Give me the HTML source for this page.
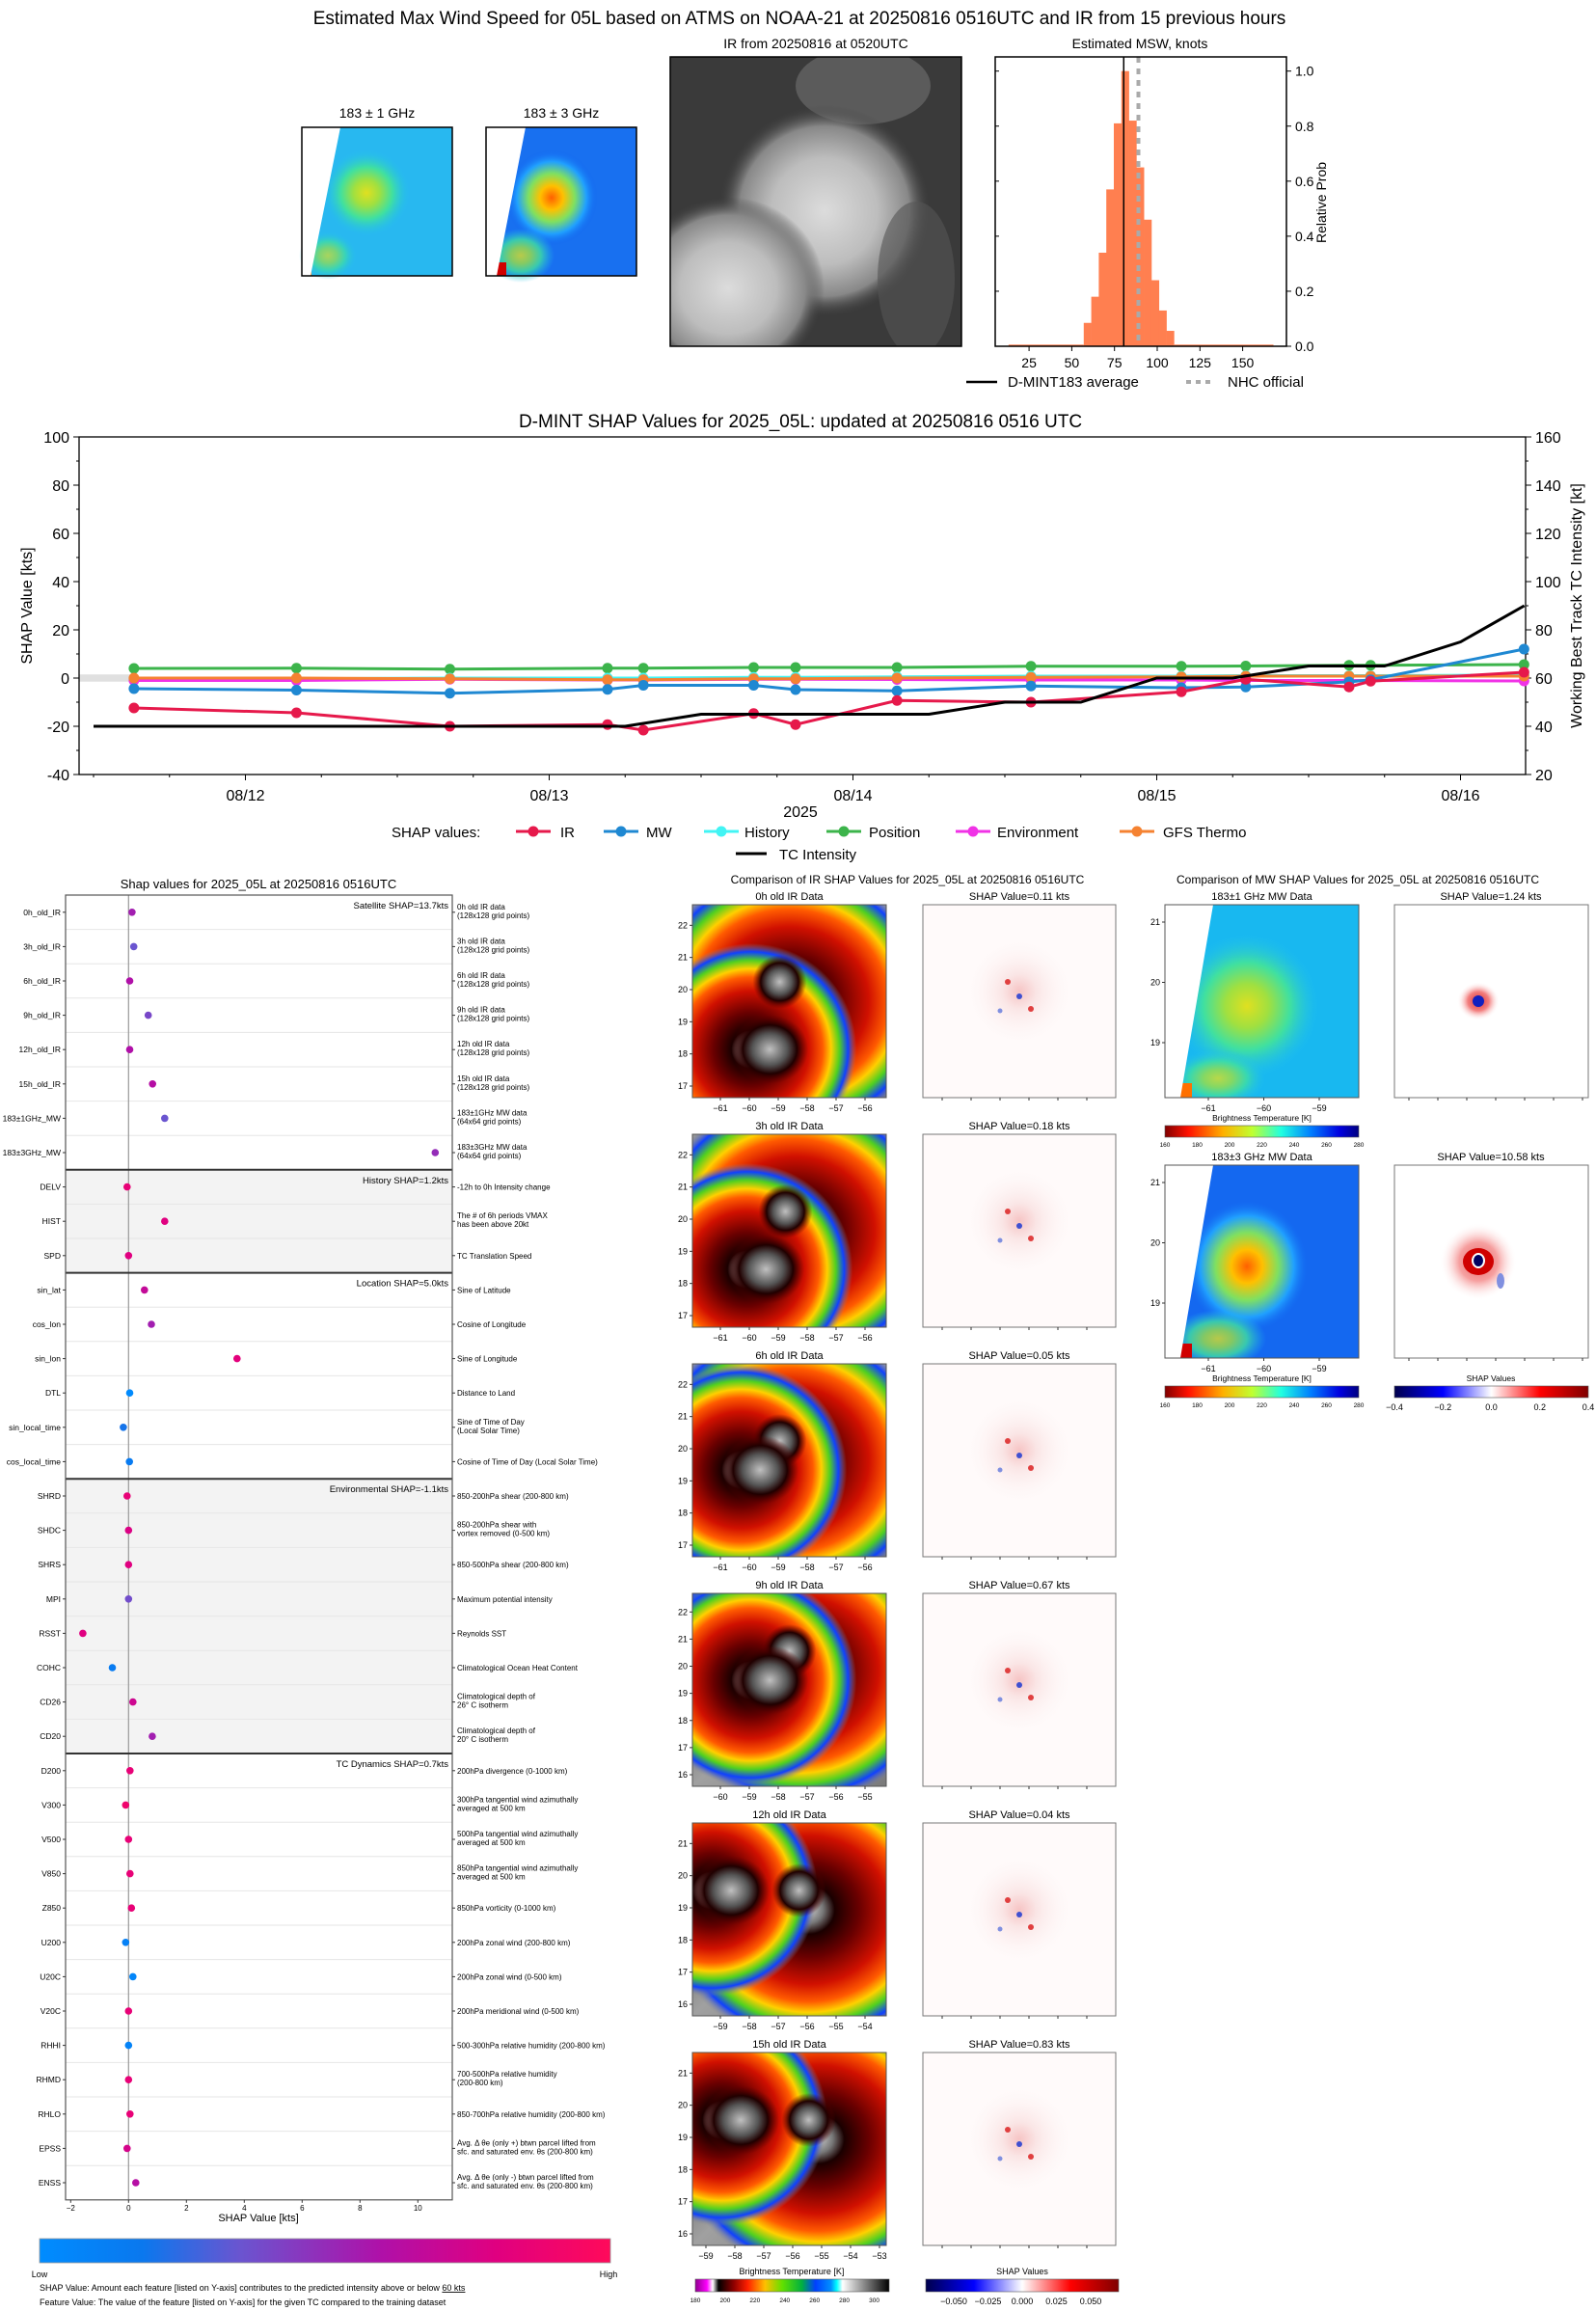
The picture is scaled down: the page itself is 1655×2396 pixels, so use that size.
<!DOCTYPE html>
<html><head><meta charset="utf-8"><title>D-MINT 05L</title>
<style>
html,body{margin:0;padding:0;background:#fff;}
svg{display:block;font-family:"Liberation Sans","DejaVu Sans",sans-serif;}
</style></head>
<body>
<svg id="root" width="1655" height="2396" viewBox="0 0 1655 2396" xmlns="http://www.w3.org/2000/svg">
<defs>
 <radialGradient id="irRing" cx="0.5" cy="0.5" r="0.5">
  <stop offset="0" stop-color="#d0d0d0"/><stop offset="0.1" stop-color="#777"/><stop offset="0.18" stop-color="#1a0000"/>
  <stop offset="0.35" stop-color="#6a0000"/><stop offset="0.55" stop-color="#d01000"/><stop offset="0.68" stop-color="#ff5a00"/>
  <stop offset="0.76" stop-color="#ffd000"/><stop offset="0.84" stop-color="#50d020"/><stop offset="0.92" stop-color="#1040ff"/>
  <stop offset="1" stop-color="#8a8a8a" stop-opacity="0"/></radialGradient>
 <radialGradient id="irCore" cx="0.5" cy="0.5" r="0.5">
  <stop offset="0" stop-color="#c0c0c0"/><stop offset="0.45" stop-color="#555"/><stop offset="0.7" stop-color="#200000"/>
  <stop offset="1" stop-color="#600000" stop-opacity="0"/></radialGradient>
 <linearGradient id="irBase" x1="0" y1="0" x2="1" y2="1">
  <stop offset="0" stop-color="#9a9a9a"/><stop offset="0.3" stop-color="#707070"/><stop offset="0.5" stop-color="#a0a0a0"/><stop offset="1" stop-color="#7a7a7a"/></linearGradient>
 <radialGradient id="shapIR" cx="0.5" cy="0.5" r="0.5">
  <stop offset="0" stop-color="#f0a0a0"/><stop offset="0.3" stop-color="#f7d8d8"/><stop offset="1" stop-color="#fff" stop-opacity="0"/></radialGradient>
 <radialGradient id="mw1" cx="0.5" cy="0.5" r="0.5">
  <stop offset="0" stop-color="#e0e020"/><stop offset="0.3" stop-color="#a0e040"/><stop offset="0.6" stop-color="#40e0a0"/><stop offset="1" stop-color="#20c0f0" stop-opacity="0"/></radialGradient>
 <radialGradient id="mw3" cx="0.5" cy="0.5" r="0.5">
  <stop offset="0" stop-color="#ff6000"/><stop offset="0.25" stop-color="#ffc000"/><stop offset="0.5" stop-color="#80e060"/><stop offset="0.75" stop-color="#20a0ff"/><stop offset="1" stop-color="#1060f0" stop-opacity="0"/></radialGradient>
 <radialGradient id="grayStorm" cx="0.5" cy="0.5" r="0.5">
  <stop offset="0" stop-color="#dcdcdc"/><stop offset="0.5" stop-color="#bdbdbd"/><stop offset="0.8" stop-color="#888"/><stop offset="1" stop-color="#3c3c3c" stop-opacity="0"/></radialGradient>
 <radialGradient id="mwShapR" cx="0.5" cy="0.5" r="0.5">
  <stop offset="0" stop-color="#d00000"/><stop offset="0.5" stop-color="#f06060"/><stop offset="1" stop-color="#fff" stop-opacity="0"/></radialGradient>
 <linearGradient id="cbShapDot" x1="0" x2="1"><stop offset="0" stop-color="#008cff"/><stop offset="0.18" stop-color="#0a78ee"/><stop offset="0.35" stop-color="#6a55d0"/><stop offset="0.6" stop-color="#b010a8"/><stop offset="0.8" stop-color="#e00080"/><stop offset="1" stop-color="#ff0a5a"/></linearGradient>
 <linearGradient id="cbIR" x1="0" x2="1"><stop offset="0" stop-color="#900090"/><stop offset="0.06" stop-color="#ff00ff"/><stop offset="0.09" stop-color="#ffffff"/><stop offset="0.12" stop-color="#000"/><stop offset="0.2" stop-color="#900000"/><stop offset="0.27" stop-color="#ff2000"/><stop offset="0.36" stop-color="#ffc000"/><stop offset="0.45" stop-color="#60e000"/><stop offset="0.55" stop-color="#00b040"/><stop offset="0.62" stop-color="#0040ff"/><stop offset="0.7" stop-color="#0090ff"/><stop offset="0.73" stop-color="#00ffff"/><stop offset="0.76" stop-color="#ffffff"/><stop offset="1" stop-color="#000"/></linearGradient>
 <linearGradient id="cbShap" x1="0" x2="1"><stop offset="0" stop-color="#00004c"/><stop offset="0.25" stop-color="#0000ff"/><stop offset="0.5" stop-color="#ffffff"/><stop offset="0.75" stop-color="#ff0000"/><stop offset="1" stop-color="#800000"/></linearGradient>
 <linearGradient id="cbMW" x1="0" x2="1"><stop offset="0" stop-color="#800000"/><stop offset="0.12" stop-color="#ff1000"/><stop offset="0.3" stop-color="#ffb000"/><stop offset="0.45" stop-color="#c0ff30"/><stop offset="0.6" stop-color="#20ffe0"/><stop offset="0.75" stop-color="#0080ff"/><stop offset="0.9" stop-color="#0000e0"/><stop offset="1" stop-color="#000080"/></linearGradient>
</defs>

<!-- ===== TOP SECTION ===== -->
<text x="829" y="25" font-size="19" text-anchor="middle">Estimated Max Wind Speed for 05L based on ATMS on NOAA-21 at 20250816 0516UTC and IR from 15 previous hours</text>

<g>
 <text x="391" y="122" font-size="14" text-anchor="middle">183 ± 1 GHz</text>
 <rect x="313" y="132" width="156" height="154" fill="#28b8f0"/>
 <ellipse cx="380" cy="200" rx="45" ry="45" fill="url(#mw1)"/>
 <ellipse cx="340" cy="265" rx="30" ry="25" fill="url(#mw1)" opacity="0.7"/>
 <rect x="313" y="276" width="10" height="10" fill="#ff8000"/>
 <polygon points="313,132 353,132 322,286 313,286" fill="#fff"/>
 <rect x="313" y="132" width="156" height="154" fill="none" stroke="#000" stroke-width="1.5"/>
</g>
<g>
 <text x="582" y="122" font-size="14" text-anchor="middle">183 ± 3 GHz</text>
 <rect x="504" y="132" width="156" height="154" fill="#1870f0"/>
 <ellipse cx="572" cy="205" rx="48" ry="50" fill="url(#mw3)"/>
 <ellipse cx="540" cy="265" rx="35" ry="28" fill="url(#mw1)" opacity="0.8"/>
 <rect x="515" y="272" width="10" height="14" fill="#d00000"/>
 <polygon points="504,132 545,132 515,286 504,286" fill="#fff"/>
 <rect x="504" y="132" width="156" height="154" fill="none" stroke="#000" stroke-width="1.5"/>
</g>
<g>
 <text x="846" y="50" font-size="14" text-anchor="middle">IR from 20250816 at 0520UTC</text>
 <svg x="695" y="59" width="302" height="300" viewBox="0 0 302 300">
  <rect width="302" height="300" fill="#3a3a3a"/>
  <ellipse cx="200" cy="30" rx="70" ry="40" fill="#6a6a6a" opacity="0.7"/>
  <ellipse cx="160" cy="160" rx="110" ry="110" fill="url(#grayStorm)"/>
  <ellipse cx="60" cy="240" rx="100" ry="95" fill="url(#grayStorm)"/>
  <ellipse cx="255" cy="230" rx="40" ry="80" fill="#555" opacity="0.6"/>
 </svg>
 <rect x="695" y="59" width="302" height="300" fill="none" stroke="#000" stroke-width="1.5"/>
</g>
<g id="hist">
 <text x="1182" y="50" font-size="14" text-anchor="middle">Estimated MSW, knots</text>
 <text transform="translate(1375,210) rotate(-90)" font-size="14" text-anchor="middle">Relative Prob</text>
 <line x1="1002" y1="396" x2="1034" y2="396" stroke="#000" stroke-width="2.5"/>
 <text x="1045" y="401" font-size="15">D-MINT183 average</text>
 <line x1="1230" y1="396" x2="1258" y2="396" stroke="#aaa" stroke-width="4" stroke-dasharray="5,5"/>
 <text x="1273" y="401" font-size="15">NHC official</text>
</g>

<!-- ===== MAIN TIME SERIES ===== -->
<g id="main">
 <text x="830" y="443" font-size="19" text-anchor="middle">D-MINT SHAP Values for 2025_05L: updated at 20250816 0516 UTC</text>
 <text transform="translate(33,628) rotate(-90)" font-size="16" text-anchor="middle">SHAP Value [kts]</text>
 <text transform="translate(1640,628) rotate(-90)" font-size="16" text-anchor="middle">Working Best Track TC Intensity [kt]</text>
 <text x="830" y="847" font-size="16" text-anchor="middle">2025</text>
 <g>
  <text x="406" y="868" font-size="15">SHAP values:</text>
 </g>
</g>

<!-- ===== LEFT DOT CHART ===== -->
<g id="dots">
 <text x="268" y="921" font-size="13" text-anchor="middle">Shap values for 2025_05L at 20250816 0516UTC</text>
 <text x="268" y="2303" font-size="11" text-anchor="middle">SHAP Value [kts]</text>
 <rect x="41" y="2321" width="592" height="25" fill="url(#cbShapDot)" stroke="#999" stroke-width="0.8"/>
 <text x="41" y="2361" font-size="9" text-anchor="middle">Low</text>
 <text x="631" y="2361" font-size="9" text-anchor="middle">High</text>
 <text x="41" y="2375" font-size="9">SHAP Value: Amount each feature [listed on Y-axis] contributes to the predicted intensity above or below <tspan text-decoration="underline">60 kts</tspan></text>
 <text x="41" y="2390" font-size="9">Feature Value: The value of the feature [listed on Y-axis] for the given TC compared to the training dataset</text>
</g>

<!-- ===== IR / MW PANELS ===== -->
<g id="panels">
 <text x="941" y="916" font-size="12" text-anchor="middle">Comparison of IR SHAP Values for 2025_05L at 20250816 0516UTC</text>
 <text x="1408" y="916" font-size="12" text-anchor="middle">Comparison of MW SHAP Values for 2025_05L at 20250816 0516UTC</text>
</g>
</svg>

<script>
// ---------- DATA ----------
const tsDays = [-0.367,0.168,0.673,1.192,1.310,1.673,1.811,2.145,2.586,3.081,3.293,3.633,3.704,4.209];
const irShap = [-12.4,-14.4,-20,-19.3,-21.6,-14.7,-19.3,-9.3,-10,-5.7,-0.5,-3.7,-1.3,2.4];
const mwShap = [-4.4,-5,-6.3,-4.7,-3,-3,-4.8,-5.3,-3.3,-4,-3.7,-1.6,-0.7,12];
const histShap = [-0.5,-0.3,0,0,0,0.3,0.3,0.5,0.8,0.8,1.0,1.0,1.0,1.2];
const posShap = [4,4.1,3.7,4.1,4.1,4.4,4.4,4.4,4.9,4.9,5,5.3,5.3,5.6];
const envShap = [-1,-1,-0.5,-0.8,-0.8,-0.5,-0.5,-0.6,-0.8,-0.8,-1,-1,-1,-1.2];
const gfsShap = [0,0,-0.3,-0.7,-0.7,-0.3,-0.3,0,0.3,0.5,0.8,0.8,0.8,0.8];
const tcDays = [-0.5,-0.25,0,0.25,0.5,0.75,1.0,1.25,1.5,1.75,2.0,2.25,2.5,2.75,3.0,3.25,3.5,3.75,4.0,4.21];
const tcKts = [40,40,40,40,40,40,40,40,45,45,45,45,50,50,60,60,65,65,75,90];
const dateLabels = ["08/12","08/13","08/14","08/15","08/16"];
const leftTicks = [-40,-20,0,20,40,60,80,100];
const rightTicks = [20,40,60,80,100,120,140,160];

const histBinStart = 57, histBinWidth = 4.4;
const histProbs = [0.085,0.18,0.34,0.57,0.81,1.0,0.82,0.65,0.46,0.24,0.13,0.056];
const histTailLo = [13,57], histTailHi = [110,168], histTailProb = 0.006;
const dmintMean = 80.4, nhcOfficial = 89;
const histXTicks = [25,50,75,100,125,150];
const histYTicks = [0.0,0.2,0.4,0.6,0.8,1.0];

const featNames = ["0h_old_IR","3h_old_IR","6h_old_IR","9h_old_IR","12h_old_IR","15h_old_IR","183±1GHz_MW","183±3GHz_MW","DELV","HIST","SPD","sin_lat","cos_lon","sin_lon","DTL","sin_local_time","cos_local_time","SHRD","SHDC","SHRS","MPI","RSST","COHC","CD26","CD20","D200","V300","V500","V850","Z850","U200","U20C","V20C","RHHI","RHMD","RHLO","EPSS","ENSS"];
const featShap = [0.12,0.18,0.04,0.68,0.04,0.83,1.25,10.6,-0.05,1.25,0,0.55,0.79,3.75,0.04,-0.18,0.03,-0.05,0,0,0,-1.58,-0.56,0.15,0.82,0.05,-0.1,0,0.05,0.1,-0.1,0.15,0,0,0,0.05,-0.05,0.25];
const featValue = [0.55,0.35,0.6,0.4,0.6,0.62,0.35,0.5,0.85,0.8,0.8,0.68,0.55,0.82,0.02,0.2,0.15,0.85,0.78,0.8,0.38,0.8,0.15,0.72,0.55,0.85,0.9,0.85,0.85,0.85,0.1,0.05,0.85,0.08,0.85,0.85,0.75,0.62];
const featDesc = [["0h old IR data","(128x128 grid points)"],["3h old IR data","(128x128 grid points)"],["6h old IR data","(128x128 grid points)"],["9h old IR data","(128x128 grid points)"],["12h old IR data","(128x128 grid points)"],["15h old IR data","(128x128 grid points)"],["183±1GHz MW data","(64x64 grid points)"],["183±3GHz MW data","(64x64 grid points)"],["-12h to 0h Intensity change"],["The # of 6h periods VMAX","has been above 20kt"],["TC Translation Speed"],["Sine of Latitude"],["Cosine of Longitude"],["Sine of Longitude"],["Distance to Land"],["Sine of Time of Day","(Local Solar Time)"],["Cosine of Time of Day (Local Solar Time)"],["850-200hPa shear (200-800 km)"],["850-200hPa shear with","vortex removed (0-500 km)"],["850-500hPa shear (200-800 km)"],["Maximum potential intensity"],["Reynolds SST"],["Climatological Ocean Heat Content"],["Climatological depth of","26° C isotherm"],["Climatological depth of","20° C isotherm"],["200hPa divergence (0-1000 km)"],["300hPa tangential wind azimuthally","averaged at 500 km"],["500hPa tangential wind azimuthally","averaged at 500 km"],["850hPa tangential wind azimuthally","averaged at 500 km"],["850hPa vorticity (0-1000 km)"],["200hPa zonal wind (200-800 km)"],["200hPa zonal wind (0-500 km)"],["200hPa meridional wind (0-500 km)"],["500-300hPa relative humidity (200-800 km)"],["700-500hPa relative humidity","(200-800 km)"],["850-700hPa relative humidity (200-800 km)"],["Avg. Δ θe (only +) btwn parcel lifted from","sfc. and saturated env. θs (200-800 km)"],["Avg. Δ θe (only -) btwn parcel lifted from","sfc. and saturated env. θs (200-800 km)"]];
const groupStarts = [0,8,11,17,25];
const groupTitles = ["Satellite SHAP=13.7kts","History SHAP=1.2kts","Location SHAP=5.0kts","Environmental SHAP=-1.1kts","TC Dynamics SHAP=0.7kts"];
const dotXTicks = [-2,0,2,4,6,8,10];

const irTitles = ["0h old IR Data","3h old IR Data","6h old IR Data","9h old IR Data","12h old IR Data","15h old IR Data"];
const irShapVals = ["0.11","0.18","0.05","0.67","0.04","0.83"];
const irLatTicks = [[17,18,19,20,21,22],[17,18,19,20,21,22],[17,18,19,20,21,22],[16,17,18,19,20,21,22],[16,17,18,19,20,21],[16,17,18,19,20,21]];
const irLonTicks = [[-61,-60,-59,-58,-57,-56],[-61,-60,-59,-58,-57,-56],[-61,-60,-59,-58,-57,-56],[-60,-59,-58,-57,-56,-55],[-59,-58,-57,-56,-55,-54],[-59,-58,-57,-56,-55,-54,-53]];
const irTbTicks = [180,200,220,240,260,280,300];
const irShapTicks = ["−0.050","−0.025","0.000","0.025","0.050"];
const mwTitles = ["183±1 GHz MW Data","183±3 GHz MW Data"];
const mwShapVals = ["1.24","10.58"];
const mwLatTicks = [21,20,19];
const mwLonTicks = [-61,-60,-59];
const mwTbTicks = [160,180,200,220,240,260,280];
const mwShapTicks = ["−0.4","−0.2","0.0","0.2","0.4"];

// ---------- HELPERS ----------
const NS = "http://www.w3.org/2000/svg";
function mk(tag, attrs, parent) {
  const e = document.createElementNS(NS, tag);
  for (const k in attrs) e.setAttribute(k, attrs[k]);
  parent.appendChild(e);
  return e;
}
function txt(parent, x, y, s, size, anchor) {
  const t = mk("text", {x: x, y: y, "font-size": size, "text-anchor": anchor || "start"}, parent);
  t.textContent = s;
  return t;
}

// ---------- HISTOGRAM ----------
(function(){
  const g = document.getElementById("hist");
  const L = 1032, R = 1334, T = 59, B = 359;
  const hx = k => 1022.8 + k * 1.772;
  const hy = p => B - p * 285.3;
  const tl = mk("rect", {x: hx(histTailLo[0]), y: hy(histTailProb), width: hx(histTailLo[1]) - hx(histTailLo[0]), height: B - hy(histTailProb), fill: "#ff7f50"}, g);
  
  
  const th = mk("rect", {x: hx(histTailHi[0]), y: hy(histTailProb), width: hx(histTailHi[1]) - hx(histTailHi[0]), height: B - hy(histTailProb), fill: "#ff7f50"}, g);
  
  
  histProbs.forEach((p, i) => {
    const k0 = histBinStart + i * histBinWidth;
    const b = mk("rect", {x: hx(k0), y: hy(p), width: hx(k0 + histBinWidth) - hx(k0) + 0.3, height: B - hy(p), fill: "#ff7f50"}, g);
    
    
  });
  const ml = mk("line", {x1: hx(dmintMean), x2: hx(dmintMean), y1: T, y2: B, stroke: "#000", "stroke-width": 1.5}, g);
  
  
  const nl = mk("line", {x1: hx(nhcOfficial), x2: hx(nhcOfficial), y1: T, y2: B, stroke: "#aaa", "stroke-width": 4, "stroke-dasharray": "6,6"}, g);
  
  
  const fr = mk("rect", {x: L, y: T, width: R - L, height: B - T, fill: "none", stroke: "#000", "stroke-width": 1.5}, g);
  
  
  histXTicks.forEach(v => {
    mk("line", {x1: hx(v), x2: hx(v), y1: B, y2: B + 5, stroke: "#000"}, g);
    const t = txt(g, hx(v), B + 22, String(v), 14, "middle");
    
    
  });
  histYTicks.forEach(v => {
    mk("line", {x1: R, x2: R + 5, y1: hy(v), y2: hy(v), stroke: "#000"}, g);
    mk("line", {x1: L, x2: L + 4, y1: hy(v), y2: hy(v), stroke: "#000"}, g);
    const t = txt(g, R + 9, hy(v) + 5, v.toFixed(1), 14, "start");
    
    
  });
})();

// ---------- MAIN TIME SERIES ----------
(function(){
  const g = document.getElementById("main");
  const L = 82, R = 1582, T = 453, B = 803;
  const x = d => 254.5 + d * 315;
  const y = v => B - (v + 40) * 2.5;
  const yR = k => B - (k - 20) * 2.5;
  const band = mk("rect", {x: L, y: y(1.5), width: x(tsDays[0]) - L, height: y(-1.5) - y(1.5), fill: "#e0e0e0"}, g);
  
  
  const fr = mk("rect", {x: L, y: T, width: R - L, height: B - T, fill: "none", stroke: "#000", "stroke-width": 1.3}, g);
  
  
  leftTicks.forEach(v => {
    mk("line", {x1: L - 6, x2: L, y1: y(v), y2: y(v), stroke: "#000"}, g);
    const t = txt(g, L - 10, y(v) + 6, String(v), 16, "end");
    
    
    if (v < 100) mk("line", {x1: L - 3, x2: L, y1: y(v + 10), y2: y(v + 10), stroke: "#000"}, g);
  });
  rightTicks.forEach(v => {
    mk("line", {x1: R, x2: R + 6, y1: yR(v), y2: yR(v), stroke: "#000"}, g);
    const t = txt(g, R + 10, yR(v) + 6, String(v), 16, "start");
    
    
    if (v < 160) mk("line", {x1: R, x2: R + 3, y1: yR(v + 10), y2: yR(v + 10), stroke: "#000"}, g);
  });
  for (let q = -2; q <= 16; q++) {
    const xx = x(q / 4);
    if (xx < L || xx > R) continue;
    mk("line", {x1: xx, x2: xx, y1: B, y2: B + (q % 4 === 0 ? 6 : 3), stroke: "#000"}, g);
  }
  dateLabels.forEach((s, i) => {
    const t = txt(g, x(i), B + 27, s, 16, "middle");
    
    
  });
  const series = [
    ["IR", irShap, "#e6194b"], ["MW", mwShap, "#1f88d2"], ["History", histShap, "#42f4f4"],
    ["Position", posShap, "#3cb44b"], ["Environment", envShap, "#f032e6"], ["GFS Thermo", gfsShap, "#f58231"]
  ];
  const order = [3, 2, 4, 5, 1, 0];
  order.forEach(si => {
    const s = series[si];
    const pts = tsDays.map((d, i) => x(d) + "," + y(s[1][i])).join(" ");
    const pl = mk("polyline", {points: pts, fill: "none", stroke: s[2], "stroke-width": 3}, g);
    
    
    tsDays.forEach((d, i) => {
      const c = mk("circle", {cx: x(d), cy: y(s[1][i]), r: 5.5, fill: s[2]}, g);
      
      
    });
  });
  const tcPts = tcDays.map((d, i) => x(d) + "," + yR(tcKts[i])).join(" ");
  const tc = mk("polyline", {points: tcPts, fill: "none", stroke: "#000", "stroke-width": 3}, g);
  
  
  const legX = [[535, 581], [626, 670], [730, 772], [857, 901], [991, 1034], [1161, 1206]];
  series.forEach((s, i) => {
    const ln = mk("line", {x1: legX[i][0], x2: legX[i][0] + 36, y1: 862, y2: 862, stroke: s[2], "stroke-width": 3}, g);
    
    
    mk("circle", {cx: legX[i][0] + 18, cy: 862, r: 5.5, fill: s[2]}, g);
    const t = txt(g, legX[i][1], 868, s[0], 15, "start");
    
    
  });
  const tl = mk("line", {x1: 763, x2: 795, y1: 885, y2: 885, stroke: "#000", "stroke-width": 3}, g);
  
  
  const tt = txt(g, 808, 891, "TC Intensity", 15, "start");
  
  
})();

// ---------- DOT CHART ----------
function featColor(v) {
  const stops = [[0, [0, 140, 255]], [0.18, [10, 120, 238]], [0.35, [106, 85, 208]], [0.6, [176, 16, 168]], [0.8, [224, 0, 128]], [1, [255, 10, 90]]];
  for (let i = 1; i < stops.length; i++) {
    if (v <= stops[i][0]) {
      const a = stops[i - 1], b = stops[i], t = (v - a[0]) / (b[0] - a[0]);
      const c = a[1].map((c0, j) => Math.round(c0 + (b[1][j] - c0) * t));
      return "rgb(" + c.join(",") + ")";
    }
  }
  return "rgb(255,10,90)";
}
(function(){
  const g = document.getElementById("dots");
  const L = 68, R = 469, T = 928, rowH = 35.6;
  const B = T + featNames.length * rowH;
  const x = v => 133.3 + v * 30;
  const ry = i => T + (i + 0.5) * rowH;
  groupStarts.forEach((s, gi) => {
    const e = gi + 1 < groupStarts.length ? groupStarts[gi + 1] : featNames.length;
    const bg = mk("rect", {x: L, y: T + s * rowH, width: R - L, height: (e - s) * rowH, fill: gi % 2 ? "#f3f3f3" : "#fff"}, g);
    
    
  });
  for (let i = 1; i < featNames.length; i++) {
    mk("line", {x1: L, x2: R, y1: T + i * rowH, y2: T + i * rowH, stroke: "#e6e6e6", "stroke-width": 1}, g);
  }
  mk("line", {x1: x(0), x2: x(0), y1: T, y2: B, stroke: "#999", "stroke-width": 1.2}, g);
  groupStarts.forEach((s, gi) => {
    if (s > 0) mk("line", {x1: L, x2: R, y1: T + s * rowH, y2: T + s * rowH, stroke: "#333", "stroke-width": 2}, g);
    const t = txt(g, R - 4, T + s * rowH + 14, groupTitles[gi], 9.5, "end");
    
    
  });
  const fr = mk("rect", {x: L, y: T, width: R - L, height: B - T, fill: "none", stroke: "#555", "stroke-width": 1.2}, g);
  
  
  featNames.forEach((n, i) => {
    mk("line", {x1: L - 3, x2: L, y1: ry(i), y2: ry(i), stroke: "#333"}, g);
    const t = txt(g, L - 5, ry(i) + 3, n, 8.5, "end");
    
    
    const d = featDesc[i];
    mk("line", {x1: R, x2: R + 3, y1: ry(i), y2: ry(i), stroke: "#333"}, g);
    d.forEach((line, k) => {
      const yy = d.length === 1 ? ry(i) + 3 : ry(i) - 3 + k * 9;
      const dt = txt(g, R + 5, yy, line, 8, "start");
      
      
    });
    const c = mk("circle", {cx: x(featShap[i]), cy: ry(i), r: 3.8, fill: featColor(featValue[i])}, g);
    
    
  });
  dotXTicks.forEach(v => {
    mk("line", {x1: x(v), x2: x(v), y1: B, y2: B + 3, stroke: "#333"}, g);
    const t = txt(g, x(v), B + 11, String(v).replace('-', '−'), 8, "middle");
    
    
  });
})();

// ---------- IMAGE PANELS ----------
(function(){
  const g = document.getElementById("panels");
  const stormPos = [[0.45,0.5,0.3,0.75],[0.48,0.5,0.28,0.7],[0.45,0.5,0.25,0.55],[0.5,0.4,0.3,0.45],[0.55,0.45,0.1,0.35],[0.6,0.45,0.15,0.35]];
  const rowTop = i => 938 + i * 238;
  irTitles.forEach((tl, i) => {
    const X = 718, Y = rowTop(i), W = 201, H = 200;
    const t = txt(g, X + W / 2, Y - 5, tl, 11, "middle");
    
    
    const sv = mk("svg", {x: X, y: Y, width: W, height: H, viewBox: "0 0 201 200"}, g);
    
    
    const p = stormPos[i];
    mk("rect", {width: 201, height: 200, fill: "url(#irBase)"}, sv);
    mk("ellipse", {cx: p[0] * 201 + 10, cy: p[1] * 200, rx: 150, ry: 140, fill: "url(#irRing)"}, sv);
    mk("ellipse", {cx: p[2] * 201, cy: p[3] * 200, rx: 110, ry: 110, fill: "url(#irRing)"}, sv);
    mk("ellipse", {cx: p[0] * 201, cy: p[1] * 200 - 20, rx: 28, ry: 28, fill: "url(#irCore)"}, sv);
    mk("ellipse", {cx: p[2] * 201 + 20, cy: p[3] * 200, rx: 40, ry: 36, fill: "url(#irCore)"}, sv);
    mk("rect", {x: X, y: Y, width: W, height: H, fill: "none", stroke: "#555"}, g);
    irLatTicks[i].forEach((v, k) => {
      const yy = Y + H - 12 - k * (H - 20) / (irLatTicks[i].length - 0.6);
      mk("line", {x1: X - 3, x2: X, y1: yy, y2: yy, stroke: "#333"}, g);
      const lt = txt(g, X - 5, yy + 3, String(v), 9, "end");
      
      
    });
    irLonTicks[i].forEach((v, k) => {
      const xx = X + 29 + k * 30 - (irLonTicks[i].length > 6 ? 15 : 0);
      mk("line", {x1: xx, x2: xx, y1: Y + H, y2: Y + H + 3, stroke: "#333"}, g);
      const lt = txt(g, xx, Y + H + 14, String(v).replace('-', '−'), 9, "middle");
      
      
    });
    const SX = 957;
    const st = txt(g, SX + 100, Y - 5, "SHAP Value=" + irShapVals[i] + " kts", 11, "middle");
    
    
    const ss = mk("svg", {x: SX, y: Y, width: 200, height: H, viewBox: "0 0 200 200"}, g);
    
    
    mk("rect", {width: 200, height: 200, fill: "#fffafa"}, ss);
    mk("ellipse", {cx: 100, cy: 90, rx: 60, ry: 60, fill: "url(#shapIR)", opacity: 0.6}, ss);
    mk("circle", {cx: 88, cy: 80, r: 3, fill: "#e04040"}, ss);
    mk("circle", {cx: 100, cy: 95, r: 3, fill: "#4050d0"}, ss);
    mk("circle", {cx: 112, cy: 108, r: 3, fill: "#e04040"}, ss);
    mk("circle", {cx: 80, cy: 110, r: 2.5, fill: "#8090e0"}, ss);
    mk("rect", {x: SX, y: Y, width: 200, height: H, fill: "none", stroke: "#777"}, g);
    for (let k = 0; k < 6; k++) mk("line", {x1: SX + 20 + k * 30, x2: SX + 20 + k * 30, y1: Y + H, y2: Y + H + 3, stroke: "#333"}, g);
  });
  const cb = mk("rect", {x: 721, y: 2363, width: 201, height: 13, fill: "url(#cbIR)", stroke: "#555", "stroke-width": 0.6}, g);
  
  
  const cbt = txt(g, 821, 2358, "Brightness Temperature [K]", 9, "middle");
  
  
  irTbTicks.forEach(v => {
    const xx = 721 + (v - 180) / 130 * 201;
    const t = txt(g, xx, 2387, String(v), 6.5, "middle");
    
    
  });
  const cb2 = mk("rect", {x: 960, y: 2363, width: 200, height: 13, fill: "url(#cbShap)", stroke: "#555", "stroke-width": 0.6}, g);
  
  
  const cb2t = txt(g, 1060, 2358, "SHAP Values", 9, "middle");
  
  
  irShapTicks.forEach((s, k) => {
    const t = txt(g, 989 + k * 35.5, 2389, s, 9, "middle");
    
    
  });
  const mwTop = [938, 1208];
  mwTitles.forEach((tl, i) => {
    const X = 1208, Y = mwTop[i], W = 201, H = 200;
    const t = txt(g, X + W / 2, Y - 5, tl, 11, "middle");
    
    
    const sv = mk("svg", {x: X, y: Y, width: W, height: H, viewBox: "0 0 201 200"}, g);
    
    
    mk("rect", {width: 201, height: 200, fill: i === 0 ? "#18b8f0" : "#1468f0"}, sv);
    mk("ellipse", {cx: 85, cy: 105, rx: i === 0 ? 75 : 65, ry: i === 0 ? 75 : 70, fill: i === 0 ? "url(#mw1)" : "url(#mw3)"}, sv);
    mk("ellipse", {cx: 55, cy: 180, rx: 50, ry: 30, fill: "url(#mw1)", opacity: 0.8}, sv);
    mk("rect", {x: 12, y: 185, width: 16, height: 15, fill: i === 0 ? "#ff7000" : "#d00000"}, sv);
    mk("polygon", {points: "0,0 50,0 16,200 0,200", fill: "#fff"}, sv);
    mk("rect", {x: X, y: Y, width: W, height: H, fill: "none", stroke: "#555"}, g);
    mwLatTicks.forEach((v, k) => {
      const yy = Y + 18 + k * 62.5;
      mk("line", {x1: X - 3, x2: X, y1: yy, y2: yy, stroke: "#333"}, g);
      const lt = txt(g, X - 5, yy + 3, String(v), 9, "end");
      
      
    });
    mwLonTicks.forEach((v, k) => {
      const xx = X + 45 + k * 57.5;
      mk("line", {x1: xx, x2: xx, y1: Y + H, y2: Y + H + 3, stroke: "#333"}, g);
      const lt = txt(g, xx, Y + H + 14, String(v).replace('-', '−'), 9, "middle");
      
      
    });
    const ct = txt(g, X + W / 2, Y + H + 24, "Brightness Temperature [K]", 8.5, "middle");
    
    
    const cbm = mk("rect", {x: X, y: Y + 229, width: W, height: 12, fill: "url(#cbMW)", stroke: "#555", "stroke-width": 0.6}, g);
    
    
    mwTbTicks.forEach((v, k) => {
      const tt = txt(g, X + k * W / 6, Y + 251, String(v), 6.5, "middle");
      
      
    });
    const SX = 1446;
    const st = txt(g, SX + 100, Y - 5, "SHAP Value=" + mwShapVals[i] + " kts", 11, "middle");
    
    
    const ss = mk("svg", {x: SX, y: Y, width: 201, height: H, viewBox: "0 0 201 200"}, g);
    
    
    mk("rect", {width: 201, height: 200, fill: "#fff"}, ss);
    if (i === 0) {
      mk("ellipse", {cx: 87, cy: 100, rx: 22, ry: 20, fill: "url(#mwShapR)", opacity: 0.8}, ss);
      mk("ellipse", {cx: 87, cy: 100, rx: 6, ry: 6, fill: "#1020c0"}, ss);
    } else {
      mk("ellipse", {cx: 87, cy: 100, rx: 40, ry: 40, fill: "url(#mwShapR)", opacity: 0.6}, ss);
      mk("ellipse", {cx: 87, cy: 100, rx: 16, ry: 14, fill: "#d00000"}, ss);
      mk("ellipse", {cx: 87, cy: 99, rx: 7, ry: 8, fill: "#fff"}, ss);
      mk("ellipse", {cx: 87, cy: 99, rx: 5, ry: 6, fill: "#000060"}, ss);
      mk("ellipse", {cx: 110, cy: 120, rx: 4, ry: 8, fill: "#8090e0"}, ss);
    }
    mk("rect", {x: SX, y: Y, width: 201, height: H, fill: "none", stroke: "#777"}, g);
    for (let k = 0; k < 7; k++) mk("line", {x1: SX + 15 + k * 30, x2: SX + 15 + k * 30, y1: Y + H, y2: Y + H + 3, stroke: "#333"}, g);
  });
  const sct = txt(g, 1546, 1432, "SHAP Values", 8.5, "middle");
  
  
  const scb = mk("rect", {x: 1446, y: 1437, width: 201, height: 12, fill: "url(#cbShap)", stroke: "#555", "stroke-width": 0.6}, g);
  
  
  mwShapTicks.forEach((s, k) => {
    const t = txt(g, 1446 + k * 50.25, 1462, s, 9, "middle");
    
    
  });
})();
</script>
</body></html>
